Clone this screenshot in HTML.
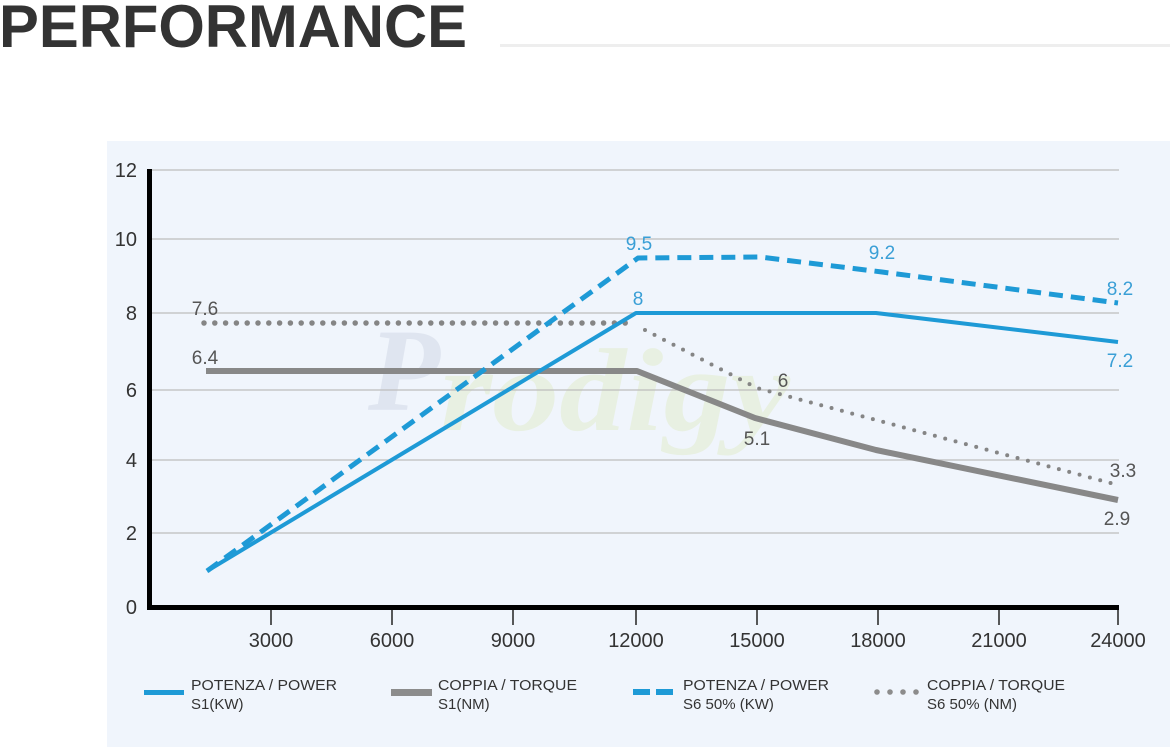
<!DOCTYPE html>
<html>
<head>
<meta charset="utf-8">
<style>
  html,body{margin:0;padding:0;background:#fff;}
  body{width:1170px;height:747px;overflow:hidden;position:relative;font-family:"Liberation Sans",sans-serif;}
  svg{position:absolute;left:0;top:0;}
</style>
</head>
<body>
<svg width="1170" height="747" viewBox="0 0 1170 747" xmlns="http://www.w3.org/2000/svg">
  <!-- title -->
  <text x="-1" y="47" font-family="Liberation Sans, sans-serif" font-weight="bold" font-size="60" fill="#333333" textLength="468" lengthAdjust="spacingAndGlyphs">PERFORMANCE</text>
  <rect x="500" y="44" width="670" height="3" fill="#eeeeee"/>

  <!-- panel -->
  <rect x="107" y="141" width="1063" height="606" fill="#f0f5fc"/>

  <!-- watermark -->
  <text x="368" y="410" font-family="Liberation Serif, serif" font-style="italic" font-weight="bold" font-size="118" fill="#dfe5f0">P</text>
  <text x="440" y="430" font-family="Liberation Serif, serif" font-style="italic" font-weight="bold" font-size="118" fill="#e8f0e2" textLength="350" lengthAdjust="spacingAndGlyphs">rodigy</text>

  <!-- gridlines -->
  <g stroke="#bdbdbd" stroke-width="1.2">
    <line x1="152" y1="170" x2="1119" y2="170"/>
    <line x1="152" y1="239" x2="1119" y2="239"/>
    <line x1="152" y1="313" x2="1119" y2="313"/>
    <line x1="152" y1="390" x2="1119" y2="390"/>
    <line x1="152" y1="460" x2="1119" y2="460"/>
    <line x1="152" y1="533" x2="1119" y2="533"/>
  </g>

  <!-- y labels -->
  <g font-family="Liberation Sans, sans-serif" font-size="20" fill="#333" text-anchor="end">
    <text x="137" y="177">12</text>
    <text x="137" y="246">10</text>
    <text x="137" y="320">8</text>
    <text x="137" y="397">6</text>
    <text x="137" y="467">4</text>
    <text x="137" y="540">2</text>
    <text x="137" y="614">0</text>
  </g>

  <!-- ticks -->
  <g stroke="#222" stroke-width="1.5">
    <line x1="271" y1="609" x2="271" y2="625"/>
    <line x1="392" y1="609" x2="392" y2="625"/>
    <line x1="513" y1="609" x2="513" y2="625"/>
    <line x1="636" y1="609" x2="636" y2="625"/>
    <line x1="757" y1="609" x2="757" y2="625"/>
    <line x1="878" y1="609" x2="878" y2="625"/>
    <line x1="999" y1="609" x2="999" y2="625"/>
    <line x1="1118" y1="609" x2="1118" y2="625"/>
  </g>
  <!-- x labels -->
  <g font-family="Liberation Sans, sans-serif" font-size="20" fill="#333" text-anchor="middle">
    <text x="271" y="647">3000</text>
    <text x="392" y="647">6000</text>
    <text x="513" y="647">9000</text>
    <text x="636" y="647">12000</text>
    <text x="757" y="647">15000</text>
    <text x="878" y="647">18000</text>
    <text x="999" y="647">21000</text>
    <text x="1118" y="647">24000</text>
  </g>

  <!-- series: torque S1 (gray solid) -->
  <polyline points="206,371 637,371 755,418 876,450 1118,500" fill="none" stroke="#888888" stroke-width="6" stroke-linejoin="round"/>

  <!-- series: torque S6 (gray dotted) -->
  <line x1="204" y1="323" x2="634" y2="323" stroke="#858585" stroke-width="5.5" stroke-linecap="round" stroke-dasharray="0 10.8"/>
  <polyline points="645,330 757,388 1118,485" fill="none" stroke="#858585" stroke-width="4" stroke-linecap="round" stroke-dasharray="0 10.7"/>

  <!-- series: power S1 (blue solid) -->
  <polyline points="207,571 636,313 876,313 1118,342" fill="none" stroke="#1e9ad6" stroke-width="4" stroke-linejoin="round"/>

  <!-- series: power S6 (blue dashed) -->
  <polyline points="207,571 638,258 760,257 882,272 1118,303" fill="none" stroke="#1e9ad6" stroke-width="5" stroke-dasharray="14 8" stroke-linejoin="round"/>

  <!-- axes -->
  <rect x="147" y="169" width="5" height="441" fill="#000"/>
  <rect x="147" y="605" width="972" height="5" fill="#000"/>

  <!-- data labels -->
  <g font-family="Liberation Sans, sans-serif" font-size="19" text-anchor="middle">
    <text x="639" y="250" fill="#3a9fd6">9.5</text>
    <text x="638" y="305" fill="#3a9fd6">8</text>
    <text x="882" y="259" fill="#3a9fd6">9.2</text>
    <text x="1120" y="295" fill="#3a9fd6">8.2</text>
    <text x="1120" y="367" fill="#3a9fd6">7.2</text>
    <text x="205" y="315" fill="#555">7.6</text>
    <text x="205" y="364" fill="#555">6.4</text>
    <text x="783" y="387" fill="#555">6</text>
    <text x="757" y="445" fill="#555">5.1</text>
    <text x="1123" y="477" fill="#555">3.3</text>
    <text x="1117" y="525" fill="#555">2.9</text>
  </g>

  <!-- legend -->
  <rect x="144" y="690" width="40" height="5" fill="#1e9ad6"/>
  <rect x="391" y="689" width="41" height="7" fill="#8c8c8c"/>
  <rect x="633" y="689" width="17" height="6" fill="#1e9ad6"/>
  <rect x="656" y="689" width="17" height="6" fill="#1e9ad6"/>
  <g fill="#8c8c8c">
    <circle cx="877" cy="692" r="2.8"/>
    <circle cx="890" cy="692" r="2.8"/>
    <circle cx="903" cy="692" r="2.8"/>
    <circle cx="916" cy="692" r="2.8"/>
  </g>
  <g font-family="Liberation Sans, sans-serif" font-size="15" fill="#333">
    <text x="191" y="690" textLength="146" lengthAdjust="spacingAndGlyphs">POTENZA / POWER</text>
    <text x="191" y="709">S1(KW)</text>
    <text x="438" y="690" textLength="139" lengthAdjust="spacingAndGlyphs">COPPIA / TORQUE</text>
    <text x="438" y="709">S1(NM)</text>
    <text x="683" y="690" textLength="146" lengthAdjust="spacingAndGlyphs">POTENZA / POWER</text>
    <text x="683" y="709">S6 50% (KW)</text>
    <text x="927" y="690" textLength="138" lengthAdjust="spacingAndGlyphs">COPPIA / TORQUE</text>
    <text x="927" y="709">S6 50% (NM)</text>
  </g>
</svg>
</body>
</html>
